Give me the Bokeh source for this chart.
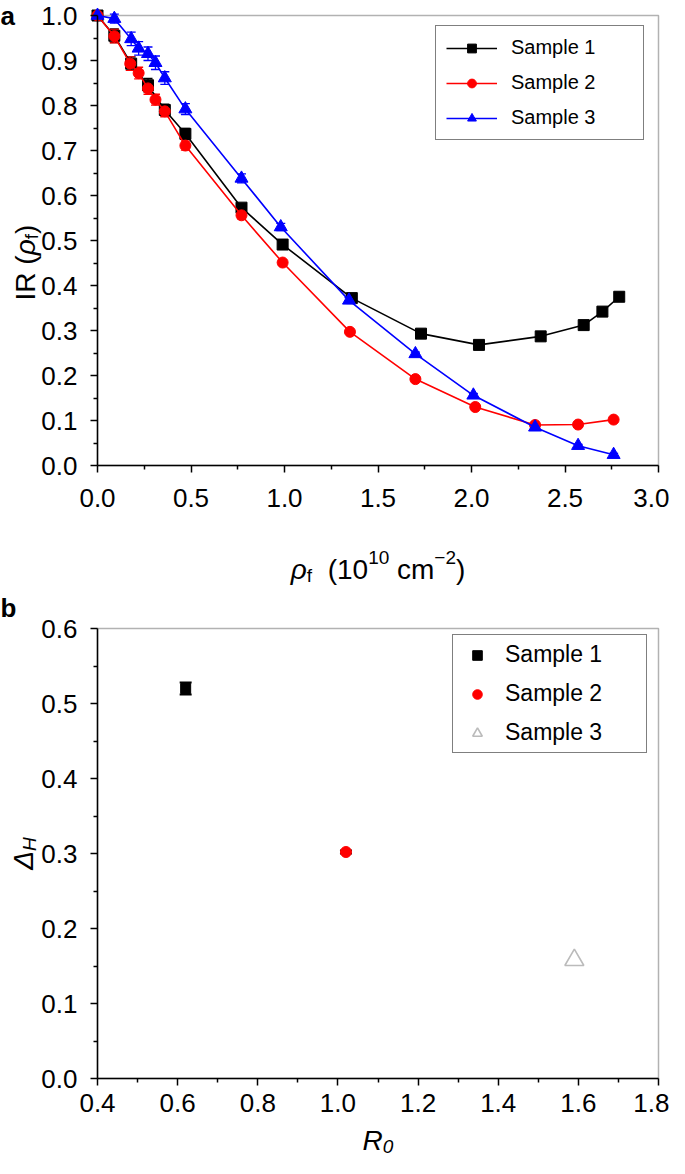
import math
from bokeh.plotting import figure
from bokeh.layouts import column
from bokeh.models import (ColumnDataSource, Whisker, TeeHead, Legend, LegendItem, BoxAnnotation,
                          Label, Range1d, FixedTicker, NumeralTickFormatter)
from bokeh.embed import file_html
from bokeh.resources import INLINE

FONT = "Liberation Sans"
NB = "\u00a0"

# ---------------- panel a data ----------------
s1_x = [0.0, 0.09, 0.18, 0.27, 0.36, 0.47, 0.77, 0.99, 1.36, 1.73, 2.04, 2.37, 2.60, 2.70, 2.79]
s1_y = [1.0, 0.955, 0.893, 0.845, 0.790, 0.737, 0.573, 0.491, 0.372, 0.293, 0.268, 0.287, 0.312, 0.342, 0.375]
s1_e = [0.0, 0.015, 0.015, 0.015, 0.013, 0.012, 0.008, 0.006, 0.004, 0.003, 0.003, 0.003, 0.003, 0.003, 0.003]

s2_x = [0.0, 0.09, 0.175, 0.22, 0.27, 0.31, 0.36, 0.47, 0.77, 0.99, 1.35, 1.70, 2.02, 2.34, 2.57, 2.76]
s2_y = [1.0, 0.954, 0.893, 0.872, 0.838, 0.813, 0.787, 0.711, 0.556, 0.451, 0.297, 0.192, 0.130, 0.090, 0.091, 0.102]
s2_e = [0.0, 0.015, 0.015, 0.013, 0.013, 0.012, 0.012, 0.010, 0.008, 0.006, 0.004, 0.003, 0.003, 0.003, 0.003, 0.003]

s3_x = [0.0, 0.09, 0.18, 0.22, 0.27, 0.31, 0.36, 0.47, 0.77, 0.98, 1.345, 1.70, 2.01, 2.34, 2.57, 2.76]
s3_y = [1.0, 0.993, 0.948, 0.927, 0.915, 0.895, 0.861, 0.792, 0.638, 0.530, 0.367, 0.248, 0.156, 0.085, 0.044, 0.024]
s3_e = [0.0, 0.010, 0.015, 0.015, 0.015, 0.015, 0.014, 0.012, 0.010, 0.008, 0.006, 0.004, 0.004, 0.003, 0.003, 0.003]

a_names = ["Sample 1", "Sample 2", "Sample 3"]
a_colors = ["#000000", "#ff0000", "#0000ff"]
a_markers = ["square", "circle", "triangle"]

a_xlim = (0.0, 3.0)
a_ylim = (0.0, 1.0)
a_xticks = [0.0, 0.5, 1.0, 1.5, 2.0, 2.5, 3.0]
a_xminor = [0.25, 0.75, 1.25, 1.75, 2.25, 2.75]
a_yticks = [0.0, 0.1, 0.2, 0.3, 0.4, 0.5, 0.6, 0.7, 0.8, 0.9, 1.0]
a_yminor = [0.05, 0.15, 0.25, 0.35, 0.45, 0.55, 0.65, 0.75, 0.85, 0.95]

# ---------------- panel b data ----------------
b_names = ["Sample 1", "Sample 2", "Sample 3"]
b_x = [0.62, 1.02, 1.59]
b_y = [0.520, 0.302, 0.158]
b_e = [0.008, 0.002, 0.0]

b_xlim = (0.4, 1.8)
b_ylim = (0.0, 0.6)
b_xticks = [0.4, 0.6, 0.8, 1.0, 1.2, 1.4, 1.6, 1.8]
b_xminor = [0.5, 0.7, 0.9, 1.1, 1.3, 1.5, 1.7]
b_yticks = [0.0, 0.1, 0.2, 0.3, 0.4, 0.5, 0.6]
b_yminor = [0.05, 0.15, 0.25, 0.35, 0.45, 0.55]

# ---------------- helpers ----------------
EM = {' ': 0.278, NB: 0.278, '(': 0.333, ')': 0.333, '.': 0.278, 'c': 0.5, 'm': 0.833,
      'f': 0.278, 'I': 0.278, 'R': 0.722, 'H': 0.722, 'Δ': 0.668, 'ρ': 0.578, '−': 0.584}


def tw(s, size):
    return sum(EM.get(ch, 0.556) for ch in s) * size


def rich(p, segs, x, y, xo, yo, vertical=False):
    total = sum(tw(t, sz) for t, sz, sh, st in segs)
    pos = -total / 2.0
    for t, sz, sh, st in segs:
        kw = dict(x=x, y=y, text=t, text_font=FONT, text_font_size=f"{sz}px",
                  text_font_style=st, text_align="left", text_baseline="alphabetic",
                  text_color="black")
        if vertical:
            lab = Label(x_offset=xo - sh, y_offset=yo + pos, angle=math.pi / 2, **kw)
        else:
            lab = Label(x_offset=xo + pos, y_offset=yo + sh, **kw)
        p.add_layout(lab)
        pos += tw(t, sz)


def make_fig(W, H, L, R, T, B, xlim, ylim):
    # the frame spans the whole canvas; the data box [L,R]x[T,B] is given in canvas pixels
    sx = (R - L) / (xlim[1] - xlim[0])
    sy = (B - T) / (ylim[1] - ylim[0])
    xr = Range1d(xlim[0] - L / sx, xlim[1] + (W - R) / sx)
    yr = Range1d(ylim[0] - (H - B) / sy, ylim[1] + T / sy)
    p = figure(width=W, height=H, x_range=xr, y_range=yr, output_backend="svg",
               toolbar_location=None, title=None, min_border=0)
    p.outline_line_color = None
    p.xgrid.visible = False
    p.ygrid.visible = False
    p.background_fill_color = "white"
    p.border_fill_color = "white"
    return p


def style(p, xlim, ylim, xt, xm, yt, ym, xstand):
    p.xaxis.fixed_location = ylim[0]
    p.yaxis.fixed_location = xlim[0]
    p.xaxis.bounds = xlim
    p.yaxis.bounds = ylim
    p.xaxis.ticker = FixedTicker(ticks=xt, minor_ticks=xm)
    p.yaxis.ticker = FixedTicker(ticks=yt, minor_ticks=ym)
    for ax in (p.xaxis[0], p.yaxis[0]):
        ax.formatter = NumeralTickFormatter(format="0.0")
        ax.axis_line_color = "black"
        ax.axis_line_width = 1.5
        ax.major_tick_line_color = "black"
        ax.minor_tick_line_color = "black"
        ax.major_tick_line_width = 1.5
        ax.minor_tick_line_width = 1.5
        ax.major_tick_out = 7
        ax.major_tick_in = 0
        ax.minor_tick_out = 4
        ax.minor_tick_in = 0
        ax.major_label_text_font = FONT
        ax.major_label_text_font_size = "26px"
        ax.major_label_text_color = "black"
    p.xaxis.major_label_standoff = xstand
    p.yaxis.major_label_standoff = 13
    box = BoxAnnotation(left=xlim[0], right=xlim[1], bottom=ylim[0], top=ylim[1],
                        fill_alpha=0, line_color="black", line_width=1.5, level="underlay")
    p.add_layout(box)


# ---------------- panel a ----------------
pa = make_fig(669, 588, 97, 658, 15, 465, a_xlim, a_ylim)
style(pa, a_xlim, a_ylim, a_xticks, a_xminor, a_yticks, a_yminor, 16)

items = []
for xs, ys, es, name, col, mk in zip([s1_x, s2_x, s3_x], [s1_y, s2_y, s3_y], [s1_e, s2_e, s3_e],
                                     a_names, a_colors, a_markers):
    src = ColumnDataSource(dict(x=xs, y=ys,
                                up=[v + e for v, e in zip(ys, es)],
                                lo=[v - e for v, e in zip(ys, es)]))
    lr = pa.line("x", "y", source=src, line_color=col, line_width=1.6)
    sr = pa.scatter("x", "y", source=src, marker=mk, size=11 if mk != "triangle" else 13,
                    fill_color=col, line_color=col)
    wk = Whisker(source=src, base="x", upper="up", lower="lo", dimension="height",
                 line_color=col, line_width=1.3,
                 upper_head=TeeHead(size=9, line_color=col, line_width=1.3),
                 lower_head=TeeHead(size=9, line_color=col, line_width=1.3))
    pa.add_layout(wk)
    items.append(LegendItem(label=name, renderers=[lr, sr]))

leg_a = Legend(items=items, location=(435, 448), glyph_width=51, glyph_height=22,
               label_height=22, label_width=122, label_standoff=14, spacing=12, padding=10,
               label_text_font=FONT, label_text_font_size="20px", label_text_color="black",
               border_line_color="black", border_line_width=1.5, background_fill_alpha=1.0,
               margin=0)
pa.add_layout(leg_a)

rich(pa, [("ρ", 28, 0, "italic"), ("f", 19, -6, "normal"), (NB + NB + "(10", 28, 0, "normal"),
          ("10", 19, 12, "normal"), (NB + "cm", 28, 0, "normal"), ("−2", 19, 12, "normal"),
          (")", 28, 0, "normal")], 1.5, 0.0, 0, -104)
rich(pa, [("IR" + NB + "(", 28, 0, "normal"), ("ρ", 28, 0, "italic"), ("f", 19, -6, "normal"),
          (")", 28, 0, "normal")], 0.0, 0.5, -72, -22, vertical=True)
pa.add_layout(Label(x=0, y=1, x_offset=-97, y_offset=15, text="a", text_font=FONT,
                    text_font_size="26px", text_font_style="bold", text_align="left",
                    text_baseline="top", text_color="black"))

# ---------------- panel b ----------------
pb = make_fig(669, 570, 97, 658, 40, 490, b_xlim, b_ylim)
style(pb, b_xlim, b_ylim, b_xticks, b_xminor, b_yticks, b_yminor, 8)

r1 = pb.scatter([b_x[0]], [b_y[0]], marker="square", size=10, fill_color="black", line_color="black")
r2 = pb.scatter([b_x[1]], [b_y[1]], marker="circle", size=11, fill_color="#ff0000", line_color="#ff0000")
r3 = pb.scatter([b_x[2]], [b_y[2]], marker="triangle", size=19, fill_color=None,
                line_color="#bbbbbb", line_width=1.6)
bsrc = ColumnDataSource(dict(x=b_x[:2], up=[v + e for v, e in zip(b_y[:2], b_e[:2])],
                             lo=[v - e for v, e in zip(b_y[:2], b_e[:2])]))
pb.add_layout(Whisker(source=bsrc, base="x", upper="up", lower="lo", dimension="height",
                      line_color="black", line_width=1.5,
                      upper_head=TeeHead(size=12, line_color="black", line_width=2),
                      lower_head=TeeHead(size=12, line_color="black", line_width=2)))

leg_b = Legend(items=[LegendItem(label=b_names[0], renderers=[r1]),
                      LegendItem(label=b_names[1], renderers=[r2]),
                      LegendItem(label=b_names[2], renderers=[r3])],
               location=(452, 405), glyph_width=36, glyph_height=24, label_height=24,
               label_width=135, label_standoff=10, spacing=12, padding=6,
               label_text_font=FONT, label_text_font_size="23px", label_text_color="black",
               border_line_color="black", border_line_width=1.5, background_fill_alpha=1.0,
               margin=0)
pb.add_layout(leg_b)

rich(pb, [("R", 28, 0, "italic"), ("0", 19, -6, "italic")], 1.1, 0.0, 0, -62)
rich(pb, [("Δ", 28, 0, "italic"), ("H", 19, -6, "italic")], 0.4, 0.3, -74, 0, vertical=True)
pb.add_layout(Label(x=0.4, y=0.6, x_offset=-97, y_offset=36, text="b", text_font=FONT,
                    text_font_size="26px", text_font_style="bold", text_align="left",
                    text_baseline="top", text_color="black"))

layout = column(pa, pb, spacing=0)
open("out.html", "w").write(file_html(layout, INLINE))
